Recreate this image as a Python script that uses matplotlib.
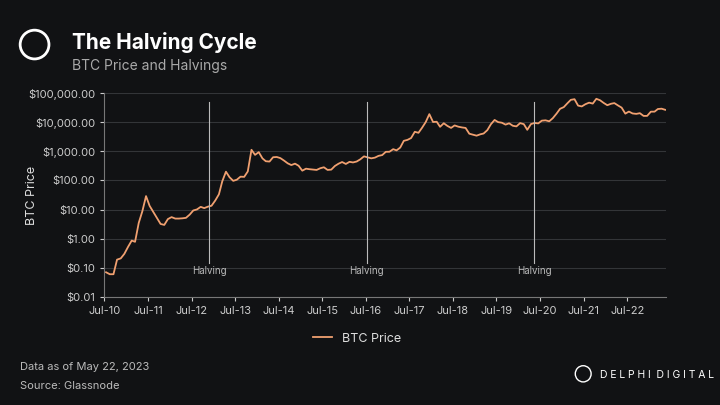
import matplotlib.pyplot as plt
import matplotlib.dates as mdates
from matplotlib.ticker import FixedLocator
from matplotlib.patches import Ellipse
import datetime as dt

plt.rcParams['font.family'] = ['Inter', 'DejaVu Sans']

prices = [
    0.07, 0.06, 0.06, 0.19, 0.21, 0.30,
    0.52, 0.86, 0.78, 3.5, 8.7, 29.0, 13.4, 8.2, 5.1, 3.2, 2.97, 4.7,
    5.5, 4.9, 4.9, 5.0, 5.2, 6.7, 9.3, 10.1, 12.4, 11.2, 12.6, 13.5,
    20.4, 33.4, 93, 200, 129, 97, 106, 135, 133, 204, 1130, 757,
    940, 573, 458, 446, 628, 640, 586, 481, 387, 338, 378, 320,
    217, 254, 244, 236, 230, 263, 284, 230, 236, 314, 377, 430,
    369, 437, 416, 448, 531, 673, 624, 575, 609, 700, 745, 963,
    970, 1190, 1080, 1350, 2300, 2480, 2870, 4700, 4340, 6470, 10200, 19000,
    10200, 10400, 6970, 9240, 7500, 6400, 7780, 7040, 6630, 6370, 4040, 3740,
    3460, 3850, 4100, 5350, 8560, 12000, 10100, 9630, 8300, 9200, 7570, 7200,
    9350, 8600, 5500, 8660, 9460, 9140, 11350, 11650, 10780, 13800, 19700, 29000,
    33100, 45200, 58900, 62000, 37300, 35000, 41600, 47100, 43800, 64000, 57000, 46300,
    38500, 43200, 45500, 37700, 31800, 19800, 23300, 20050, 19400, 20500, 16500, 16550,
    23100, 23150, 28500, 29250, 26800,
]
dates = [dt.date(2010 + (6 + i) // 12, (6 + i) % 12 + 1, 15) for i in range(len(prices))]
halvings = [dt.date(2012, 11, 28), dt.date(2016, 7, 9), dt.date(2020, 5, 11)]
yticks = [0.01, 0.1, 1, 10, 100, 1000, 10000, 100000]
ylabels = ["$0.01", "$0.10", "$1.00", "$10.00", "$100.00", "$1,000.00", "$10,000.00", "$100,000.00"]

bg = "#111214"
fig = plt.figure(figsize=(7.2, 4.05), dpi=100, facecolor=bg)
ax = fig.add_axes([0.145, 0.267, 0.78, 0.503], facecolor=bg)

ax.plot(dates, prices, color="#F0A070", lw=1.3, label="BTC Price")
for h in halvings:
    ax.plot([h, h], [0.15, 50000], color="#bbbbbb", lw=0.8)
    ax.text(h, 0.075, "Halving", color="#bbbbbb", fontsize=7, ha="center", va="center")

ax.set_yscale("log")
ax.set_ylim(0.01, 100000)
ax.yaxis.set_major_locator(FixedLocator(yticks))
ax.set_yticklabels(ylabels)
ax.yaxis.set_minor_locator(FixedLocator([]))
ax.set_xlim(dt.date(2010, 7, 1), dt.date(2023, 5, 22))
ax.set_xticks([dt.date(y, 7, 1) for y in range(2010, 2023)])
ax.xaxis.set_major_formatter(mdates.DateFormatter("%b-%y"))
ax.grid(axis="y", color="#333538", lw=0.8)
ax.tick_params(colors="#cccccc", labelsize=8, length=3)
for s in ["top", "right"]:
    ax.spines[s].set_visible(False)
for s in ["left", "bottom"]:
    ax.spines[s].set_color("#777777")
ax.set_ylabel("BTC Price", color="#dddddd", fontsize=9)
ax.yaxis.set_label_coords(-0.118, 0.5)

ax.legend(loc="upper center", bbox_to_anchor=(0.45, -0.12), frameon=False,
          labelcolor="#dddddd", fontsize=9, handlelength=1.5)

fig.text(0.1, 0.895, "The Halving Cycle", color="white", fontsize=15, fontweight="bold", va="center")
fig.text(0.1, 0.838, "BTC Price and Halvings", color="#aaaaaa", fontsize=10, va="center")
fig.add_artist(Ellipse((0.048, 0.89), 0.04, 0.071, transform=fig.transFigure, fill=False, color="white", lw=2))
fig.text(0.028, 0.087, "Data as of May 22, 2023", color="#bbbbbb", fontsize=8)
fig.text(0.028, 0.04, "Source: Glassnode", color="#bbbbbb", fontsize=8)
fig.text(0.834, 0.075, "D E L P H I  D I G I T A L", color="white", fontsize=7.5, ha="left", va="center")
fig.add_artist(Ellipse((0.81, 0.077), 0.022, 0.04, transform=fig.transFigure, fill=False, color="white", lw=1))

fig.savefig("out.png", facecolor=bg)
